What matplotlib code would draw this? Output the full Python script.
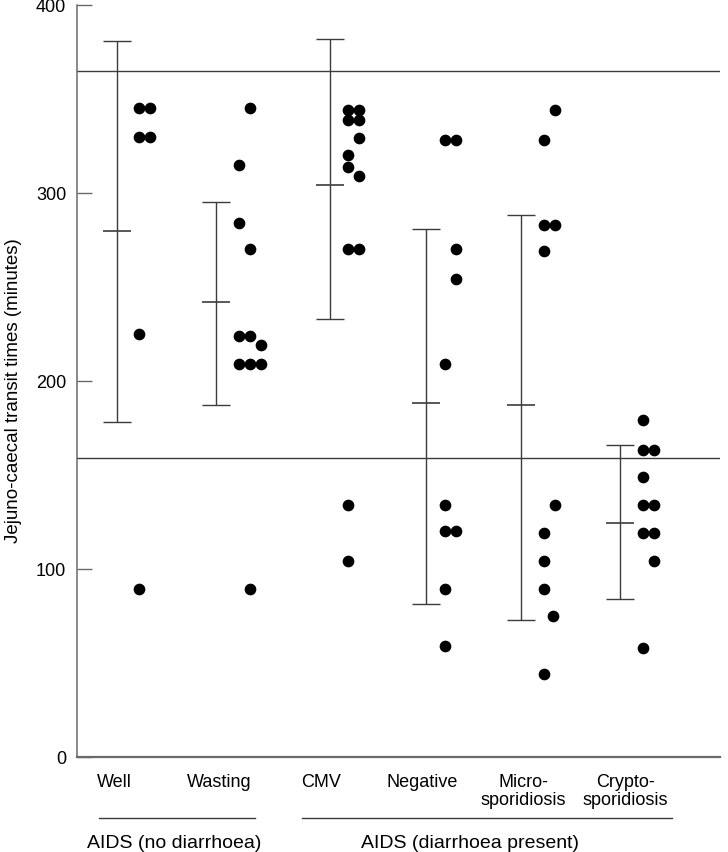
import numpy as np
import matplotlib
matplotlib.use("Agg")
import matplotlib.pyplot as plt

plt.rcParams["font.family"] = ["Liberation Sans", "DejaVu Sans"]

# Data
categories = ["Well", "Wasting", "CMV", "Negative", "Micro-\nsporidiosis", "Crypto-\nsporidiosis"]
group_names = ["AIDS (no diarrhoea)", "AIDS (diarrhoea present)"]

means = [280, 242, 304, 188, 187, 124.5]
bar_low = [178, 187, 233, 81, 73, 84]
bar_high = [381, 295, 382, 281, 288, 166]

ref_lines = [365, 159]

well_vals = [345, 345, 330, 330, 225, 89]
wasting_vals = [345, 315, 284, 270, 224, 224, 219, 209, 209, 209, 89]
cmv_vals = [344, 344, 339, 339, 329, 320, 314, 309, 270, 270, 134, 104]
negative_vals = [328, 328, 270, 254, 209, 134, 120, 120, 89, 59]
micro_vals = [344, 328, 283, 283, 269, 134, 119, 104, 89, 75, 44]
crypto_vals = [179, 163, 163, 149, 134, 134, 119, 119, 104, 58]

# column slot of each dot within its group (side-by-side stacking)
well_cols = [0, 1, 0, 1, 0, 0]
wasting_cols = [1, 0, 0, 1, 0, 1, 2, 0, 1, 2, 1]
cmv_cols = [0, 1, 0, 1, 1, 0, 0, 1, 0, 1, 0, 0]
negative_cols = [0, 1, 1, 1, 0, 0, 0, 1, 0, 0]
micro_cols = [1, 0, 0, 1, 0, 1, 0, 0, 0, 0.85, 0]
crypto_cols = [0, 0, 1, 0, 0, 1, 0, 1, 1, 0]

values = [well_vals, wasting_vals, cmv_vals, negative_vals, micro_vals, crypto_vals]
columns = [well_cols, wasting_cols, cmv_cols, negative_cols, micro_cols, crypto_cols]

# Layout
xpos = np.array([0.40, 1.39, 2.53, 3.49, 4.44, 5.43])
label_x = [0.37, 1.42, 2.44, 3.45, 4.46, 5.48]
dot_start = [0.22, 0.23, 0.18, 0.19, 0.23, 0.23]
col_step = 0.108
line_col = "#3c3c3c"
axis_col = "#6a6a6a"

W, H = 728, 853
fig = plt.figure(figsize=(W / 100, H / 100), dpi=100)
ax = fig.add_axes([77.3 / W, 1 - 757.7 / H, 642.7 / W, 751.7 / H])

# reference lines
for r in ref_lines:
    ax.axhline(r, color=line_col, lw=1.0, zorder=1)

# error bars (range) and mean ticks
yerr = [np.array(means) - np.array(bar_low), np.array(bar_high) - np.array(means)]
ax.errorbar(xpos, means, yerr=yerr, fmt="none", ecolor=line_col,
            elinewidth=1.0, capsize=10, capthick=1.0, zorder=2)
ax.plot(xpos, means, linestyle="none", marker="_", markersize=20,
        markeredgewidth=1.2, color=line_col, zorder=2)

# individual dots
for i, (vals, cols) in enumerate(zip(values, columns)):
    xs = xpos[i] + dot_start[i] + col_step * np.array(cols, dtype=float)
    ax.plot(xs, vals, linestyle="none", marker="o", markersize=7.4,
            color="black", zorder=3)

ax.set_xlim(0, 6.43)
ax.set_ylim(0, 400)
ax.set_yticks([0, 100, 200, 300, 400])
ax.set_xticks([])
ax.tick_params(axis="y", direction="in", length=10.5, width=1.0,
               color=axis_col, labelsize=13, pad=8)
for side in ["top", "right"]:
    ax.spines[side].set_visible(False)
ax.spines["left"].set_color(axis_col)
ax.spines["left"].set_linewidth(1.1)
ax.spines["bottom"].set_color(axis_col)
ax.spines["bottom"].set_linewidth(1.6)

fig.text(14 / W, 1 - 391 / H, "Jejuno-caecal transit times (minutes)",
         rotation=90, ha="center", va="center", fontsize=13.5)

# category labels below the axis
trans = ax.get_xaxis_transform()
for x, lab in zip(label_x, categories):
    ax.text(x, -0.0215, lab, transform=trans, ha="center", va="top",
            fontsize=13, linespacing=1.1, clip_on=False)

# group brackets
group_spans = [(0.217, 1.777), (2.247, 5.947)]
group_label_x = [0.972, 3.927]
for (x0, x1), gx, name in zip(group_spans, group_label_x, group_names):
    ax.plot([x0, x1], [-0.0815, -0.0815], transform=trans, color=line_col,
            lw=1.0, clip_on=False)
    ax.text(gx, -0.1195, name, transform=trans, ha="center", va="baseline",
            fontsize=14, clip_on=False)

fig.savefig("out.png", dpi=100)
